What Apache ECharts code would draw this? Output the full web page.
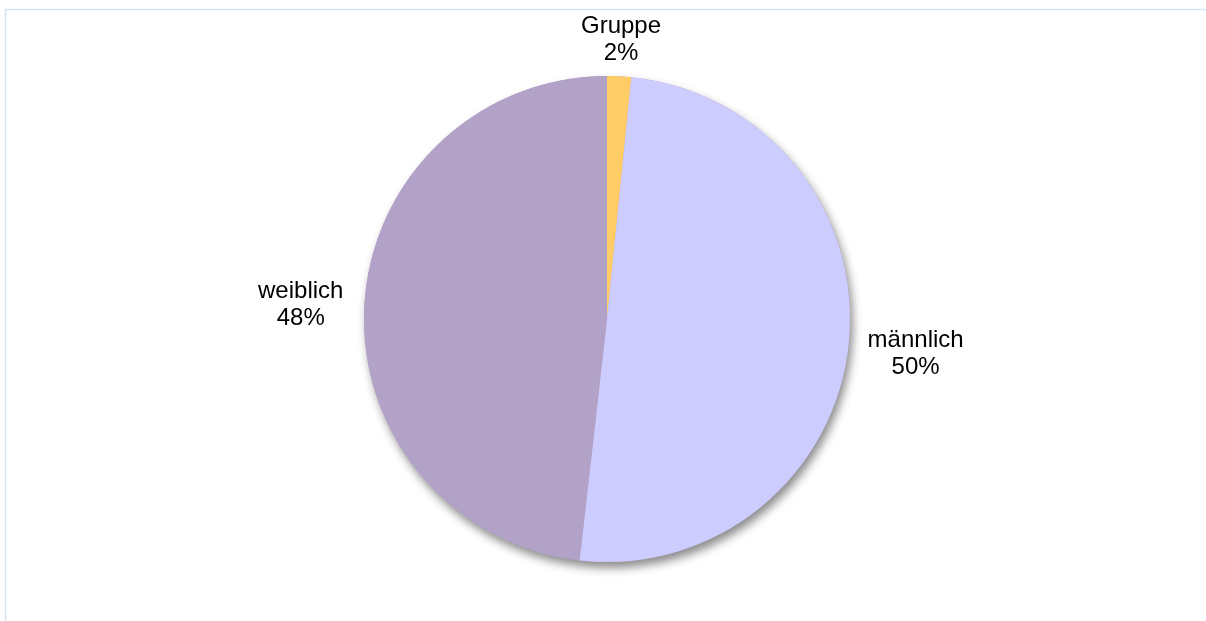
<!DOCTYPE html>
<html>
<head>
<meta charset="utf-8">
<script src="https://cdn.jsdelivr.net/npm/echarts@6/dist/echarts.min.js"></script>
<style>
html,body{margin:0;padding:0;background:#fff;}
#c{width:1206px;height:621px;}
</style>
</head>
<body>
<div id="c"></div>
<script>
const categories = ['Gruppe', 'männlich', 'weiblich'];
const values = [1.6, 50.2, 48.2];
const colors = ['#ffcc66', '#ccccff', '#b3a2c7'];

const chart = echarts.init(document.getElementById('c'), null, {renderer: 'canvas'});

const data = categories.map((name, i) => {
  const item = {name: name, value: values[i], itemStyle: {color: colors[i]}};
  if (i === 0) {
    item.labelLine = {show: false, length: 36, length2: 0};
    item.label = {distanceToLabelLine: 0};
  } else if (i === 2) {
    item.label = {distanceToLabelLine: 21};
  }
  return item;
});

chart.setOption({
  animation: false,
  backgroundColor: '#ffffff',
  graphic: [{
    type: 'rect',
    shape: {x: 5.5, y: 9.5, width: 1400, height: 800},
    style: {fill: 'none', stroke: '#d6e1f2', lineWidth: 1.5},
    silent: true,
    z: 0
  }],
  series: [
    {
      type: 'pie',
      silent: true,
      center: [607, 319],
      radius: 243,
      z: 1,
      label: {show: false},
      labelLine: {show: false},
      data: [{value: 1, itemStyle: {color: '#b3a2c7'}}],
      itemStyle: {
        shadowBlur: 10,
        shadowOffsetX: 3,
        shadowOffsetY: 6,
        shadowColor: 'rgba(0,0,0,0.45)'
      }
    },
    {
      type: 'pie',
      center: [607, 319],
      radius: 243,
      startAngle: 90,
      clockwise: true,
      z: 2,
      avoidLabelOverlap: false,
      percentPrecision: 0,
      itemStyle: {borderWidth: 0},
      labelLine: {show: false, length: 0, length2: 0},
      label: {
        show: true,
        position: 'outside',
        distanceToLabelLine: 19,
        formatter: '{t|{b}}\n{t|{d}%}',
        rich: {
          t: {
            align: 'center',
            fontFamily: 'Liberation Sans, Arial, sans-serif',
            fontSize: 24,
            lineHeight: 27,
            color: '#000000'
          }
        }
      },
      labelLayout: function (params) {
        if (params.dataIndex === 0) {
          return {align: 'center'};
        }
        if (params.dataIndex === 1) {
          return {dy: 9};
        }
      },
      data: data
    }
  ]
});
</script>
</body>
</html>
